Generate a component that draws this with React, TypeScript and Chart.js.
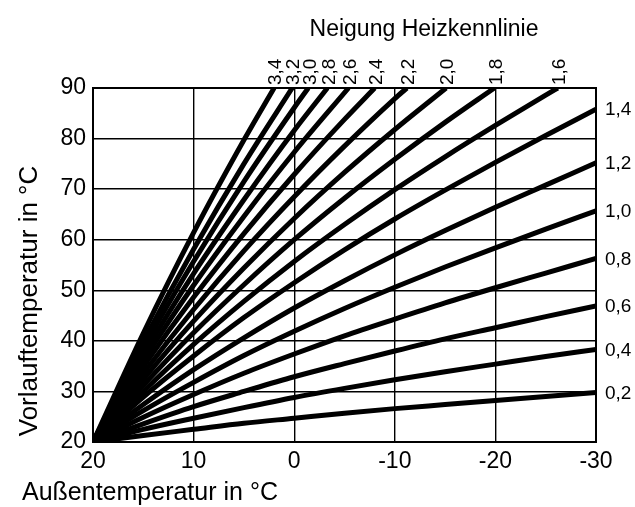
import React, { useEffect, useRef } from "react";
import { Chart, registerables } from "chart.js";

Chart.register(...registerables);

const FONT = "'Liberation Sans', Arial, Helvetica, sans-serif";

// Outside temperature steps (°C)
const outsideTemps = [20, 15, 10, 5, 0, -5, -10, -15, -20, -25, -30];

// Flow temperature (°C) per heating-curve slope, read at the outside temperatures above
const flow_0_2 = [20, 21.3, 22.5, 23.7, 24.7, 25.7, 26.6, 27.4, 28.2, 29.0, 29.8];
const flow_0_4 = [20, 22.5, 24.7, 26.8, 28.8, 30.6, 32.3, 33.9, 35.4, 36.9, 38.3];
const flow_0_6 = [20, 23.6, 27.0, 30.0, 32.9, 35.5, 38.0, 40.4, 42.6, 44.8, 46.9];
const flow_0_8 = [20, 24.9, 29.4, 33.6, 37.4, 41.0, 44.3, 47.5, 50.5, 53.4, 56.3];
const flow_1_0 = [20, 26.2, 31.8, 37.1, 41.9, 46.4, 50.6, 54.6, 58.4, 62.1, 65.7];
const flow_1_2 = [20, 27.4, 34.3, 40.6, 46.5, 51.9, 57.0, 61.8, 66.4, 70.8, 75.2];
const flow_1_4 = [20, 28.9, 37.0, 44.6, 51.5, 58.0, 64.1, 69.8, 75.3, 80.6, 85.8];
const flow_1_6 = [20, 30.0, 39.3, 47.8, 55.7, 63.0, 69.9, 76.4, 82.6, 88.6];
const flow_1_8 = [20, 31.2, 41.6, 51.1, 60.0, 68.2, 75.9, 83.2];
const flow_2_0 = [20, 32.4, 43.9, 54.4, 64.2, 73.3, 81.8];
const flow_2_2 = [20, 33.6, 46.2, 57.8, 68.5, 78.5, 87.9];
const flow_2_4 = [20, 34.9, 48.6, 61.2, 72.9, 83.8];
const flow_2_6 = [20, 36.1, 51.0, 64.6, 77.3];
const flow_2_8 = [20, 37.3, 53.3, 67.9, 81.6];
const flow_3_0 = [20, 38.6, 55.7, 71.5, 86.1];
const flow_3_2 = [20, 39.8, 58.1, 75.0];
const flow_3_4 = [20, 41.5, 61.4, 79.7];

const rightSlopeLabels = ["0,2", "0,4", "0,6", "0,8", "1,0", "1,2", "1,4"];
const rightFlows = [flow_0_2, flow_0_4, flow_0_6, flow_0_8, flow_1_0, flow_1_2, flow_1_4];

const topSlopeLabels = ["1,6", "1,8", "2,0", "2,2", "2,4", "2,6", "2,8", "3,0", "3,2", "3,4"];
const topFlows = [flow_1_6, flow_1_8, flow_2_0, flow_2_2, flow_2_4, flow_2_6, flow_2_8, flow_3_0, flow_3_2, flow_3_4];
// Outside temperature where each steep curve reaches the max flow temperature
const topEndTemps = [-26.2, -19.9, -15.1, -11.2, -8.0, -5.4, -3.3, -1.4, 0.2, 2.0];
const maxFlow = 90;

const xTicks = [20, 10, 0, -10, -20, -30];
const yTicks = [20, 30, 40, 50, 60, 70, 80, 90];

const chartTitle = "Neigung Heizkennlinie";
const xTitle = "Außentemperatur in °C";
const yTitle = "Vorlauftemperatur in °C";

export default function App() {
  const ref = useRef<HTMLCanvasElement>(null);

  useEffect(() => {
    if (!ref.current) return;

    const datasets: any[] = [];
    rightFlows.forEach((vals, i) => {
      datasets.push({
        label: rightSlopeLabels[i],
        data: vals.map((v, j) => ({ x: outsideTemps[j], y: v })),
        side: "right",
      });
    });
    topFlows.forEach((vals, i) => {
      const pts = vals.map((v, j) => ({ x: outsideTemps[j], y: v }));
      pts.push({ x: topEndTemps[i], y: maxFlow });
      datasets.push({ label: topSlopeLabels[i], data: pts, side: "top" });
    });

    const labelPlugin = {
      id: "curveLabels",
      afterDraw(chart: any) {
        const ctx = chart.ctx;
        const { right, top } = chart.chartArea;
        ctx.save();
        ctx.fillStyle = "#000";

        // chart title
        ctx.font = `23px ${FONT}`;
        ctx.textAlign = "center";
        ctx.textBaseline = "middle";
        ctx.fillText(chartTitle, 424, 30);

        // x axis title
        ctx.font = `25px ${FONT}`;
        ctx.textAlign = "left";
        ctx.textBaseline = "middle";
        ctx.fillText(xTitle, 22, 493);

        // y axis title
        ctx.save();
        ctx.translate(30, 301);
        ctx.rotate(-Math.PI / 2);
        ctx.font = `26px ${FONT}`;
        ctx.textAlign = "center";
        ctx.textBaseline = "middle";
        ctx.fillText(yTitle, 0, 0);
        ctx.restore();

        // curve labels
        chart.data.datasets.forEach((ds: any, i: number) => {
          const meta = chart.getDatasetMeta(i);
          const last = meta.data[meta.data.length - 1];
          ctx.font = `19px ${FONT}`;
          if (ds.side === "right") {
            ctx.textAlign = "left";
            ctx.textBaseline = "middle";
            ctx.fillText(ds.label, right + 9, last.y + 1);
          } else {
            ctx.save();
            ctx.translate(last.x + 2, top - 3);
            ctx.rotate(-Math.PI / 2);
            ctx.font = `19px ${FONT}`;
            ctx.textAlign = "left";
            ctx.textBaseline = "middle";
            ctx.fillText(ds.label, 0, 0);
            ctx.restore();
          }
        });
        ctx.restore();
      },
    };

    const chart = new Chart(ref.current, {
      type: "line",
      data: {
        datasets: datasets.map((d) => ({
          ...d,
          borderColor: "#000",
          borderWidth: 5,
          pointRadius: 0,
          fill: false,
          cubicInterpolationMode: "monotone",
          borderCapStyle: "butt",
        })),
      },
      options: {
        animation: false,
        responsive: false,
        devicePixelRatio: 1,
        layout: { padding: { left: 0, top: 88, right: 39, bottom: 0 } },
        plugins: {
          legend: { display: false },
          tooltip: { enabled: false },
          title: { display: false },
        },
        scales: {
          x: {
            type: "linear",
            reverse: true,
            min: -30,
            max: 20,
            afterFit: (s: any) => {
              s.height = 65;
            },
            afterBuildTicks: (s: any) => {
              s.ticks = xTicks.map((v) => ({ value: v }));
            },
            ticks: {
              color: "#000",
              font: { family: FONT, size: 23 },
              padding: 6,
              maxRotation: 0,
            },
            grid: { color: "#000", lineWidth: 1.4, drawTicks: false },
            border: { color: "#000", width: 2 },
          },
          y: {
            type: "linear",
            min: 20,
            max: 90,
            afterFit: (s: any) => {
              s.width = 93;
            },
            afterBuildTicks: (s: any) => {
              s.ticks = yTicks.map((v) => ({ value: v }));
            },
            ticks: {
              color: "#000",
              font: { family: FONT, size: 23 },
              padding: 7,
            },
            grid: { color: "#000", lineWidth: 1.4, drawTicks: false },
            border: { color: "#000", width: 2 },
          },
          x2: {
            type: "linear",
            position: "top",
            display: true,
            min: -30,
            max: 20,
            reverse: true,
            afterFit: (s: any) => {
              s.height = 0;
            },
            ticks: { display: false },
            grid: { display: false, drawTicks: false },
            border: { color: "#000", width: 2 },
          },
          y2: {
            type: "linear",
            position: "right",
            display: true,
            min: 20,
            max: 90,
            afterFit: (s: any) => {
              s.width = 0;
            },
            ticks: { display: false },
            grid: { display: false, drawTicks: false },
            border: { color: "#000", width: 2 },
          },
        },
      } as any,
      plugins: [labelPlugin],
    });

    return () => chart.destroy();
  }, []);

  return (
    <div style={{ position: "absolute", left: 0, top: 0, width: 635, height: 507, background: "#fff" }}>
      <canvas ref={ref} width={635} height={507} />
    </div>
  );
}
